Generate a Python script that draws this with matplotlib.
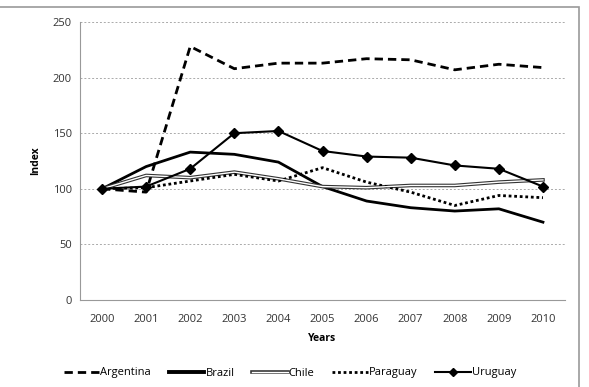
import matplotlib
matplotlib.use("Agg")
import matplotlib.pyplot as plt
from matplotlib.patches import Rectangle
from matplotlib.lines import Line2D
from matplotlib.legend_handler import HandlerTuple

years = ["2000", "2001", "2002", "2003", "2004", "2005", "2006", "2007", "2008", "2009", "2010"]
argentina = [100, 97, 228, 208, 213, 213, 217, 216, 207, 212, 209]
brazil = [100, 120, 133, 131, 124, 102, 89, 83, 80, 82, 70]
chile = [100, 112, 110, 115, 109, 102, 101, 103, 103, 106, 108]
paraguay = [100, 101, 107, 113, 107, 119, 106, 97, 85, 94, 92]
uruguay = [100, 102, 118, 150, 152, 134, 129, 128, 121, 118, 102]
yticks = [0, 50, 100, 150, 200, 250]

plt.rcParams['font.family'] = ['Open Sans', 'DejaVu Sans']

W, H = 589, 387
fig = plt.figure(figsize=(W / 100, H / 100), dpi=100)
ax = fig.add_axes([80 / W, 1 - 300 / H, (565 - 80) / W, (300 - 22) / H])

# outer frame (top and right visible)
fig.patches.append(Rectangle((-0.01, -0.01), 579 / W + 0.01, 1 - 7 / H + 0.01,
                             transform=fig.transFigure, fill=False,
                             edgecolor='#9a9a9a', linewidth=1.2, zorder=0))

x = list(range(len(years)))
ax.plot(x, argentina, color='black', linewidth=2.0, linestyle=(0, (3, 1.8)), zorder=3)
ax.plot(x, brazil, color='black', linewidth=2.0, zorder=3)
ax.plot(x, chile, color='#333333', linewidth=2.6, zorder=3)
ax.plot(x, chile, color='white', linewidth=1.0, zorder=3.1)
ax.plot(x, paraguay, color='black', linewidth=2.0, linestyle=(0, (1, 1)), zorder=3)
ax.plot(x, uruguay, color='black', linewidth=1.5, marker='D', markersize=5, zorder=4)

ax.set_xlim(-0.5, len(years) - 0.5)
ax.set_ylim(0, 250)
ax.set_yticks(yticks)
ax.set_xticks(x)
ax.set_xticklabels(years)
ax.yaxis.grid(True, color='#aaaaaa', linestyle=(0, (2, 2)), linewidth=0.7)
ax.set_axisbelow(True)
for s in ['top', 'right']:
    ax.spines[s].set_visible(False)
ax.spines['left'].set_color('#999999')
ax.spines['bottom'].set_color('#999999')
ax.tick_params(axis='both', length=0, labelsize=8, colors='#333333', pad=6)
ax.tick_params(axis='x', pad=10)
ax.set_xlabel('Years', fontsize=7.5, fontweight='bold', labelpad=6)
ax.set_ylabel('Index', fontsize=7.5, fontweight='bold', labelpad=8)

chile_outer = Line2D([], [], color='#333333', linewidth=2.6)
chile_inner = Line2D([], [], color='white', linewidth=1.0)
handles = [
    Line2D([], [], color='black', linewidth=2.0, linestyle=(0, (3, 1.8))),
    Line2D([], [], color='black', linewidth=2.8),
    (chile_outer, chile_inner),
    Line2D([], [], color='black', linewidth=2.0, linestyle=(0, (1, 1))),
    Line2D([], [], color='black', linewidth=1.5, marker='D', markersize=4),
]
fig.legend(handles, ['Argentina', 'Brazil', 'Chile', 'Paraguay', 'Uruguay'],
           loc='center', bbox_to_anchor=(290 / W, 1 - 373 / H), ncol=5,
           frameon=False, fontsize=8, handlelength=3.2, handletextpad=0.1,
           columnspacing=1.6,
           handler_map={tuple: HandlerTuple(ndivide=1, pad=0)})

fig.savefig('out.png', dpi=100)
